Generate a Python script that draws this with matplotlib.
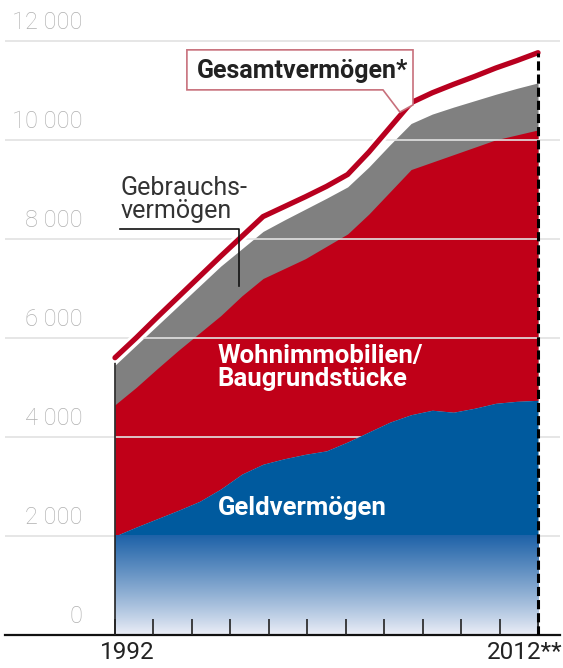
import numpy as np
import matplotlib
matplotlib.use("Agg")
import matplotlib.pyplot as plt
import matplotlib.patheffects as pe
from matplotlib import font_manager as fm
from matplotlib.patches import Polygon

# ---- data (Mrd. Euro) ----
years = [1992, 1993, 1994, 1995, 1996, 1997, 1998, 1999, 2000, 2001, 2002,
         2003, 2004, 2005, 2006, 2007, 2008, 2009, 2010, 2011, 2012]
geld = [2000, 2180, 2350, 2520, 2700, 2950, 3250, 3450, 3560, 3650, 3720,
        3900, 4100, 4300, 4450, 4540, 4500, 4580, 4680, 4720, 4740]
wohn_top = [4650, 5000, 5380, 5750, 6100, 6450, 6850, 7200, 7400, 7600, 7850,
            8100, 8500, 8950, 9400, 9550, 9700, 9850, 10000, 10100, 10200]
gebrauch_top = [5450, 5850, 6250, 6650, 7050, 7450, 7800, 8150, 8380, 8600, 8820,
                9050, 9450, 9900, 10330, 10520, 10660, 10790, 10920, 11040, 11150]
gesamt = [5600, 6000, 6420, 6830, 7240, 7650, 8050, 8450, 8650, 8850, 9060,
          9300, 9750, 10250, 10750, 10950, 11120, 11280, 11450, 11600, 11760]
yticks = [0, 2000, 4000, 6000, 8000, 10000, 12000]
ytick_labels = ["0", "2 000", "4 000", "6 000", "8 000", "10 000", "12 000"]
xlabel_first = "1992"
xlabel_last = "2012**"

available = {f.name for f in fm.fontManager.ttflist}
main_font = "Roboto" if "Roboto" in available else "Liberation Sans"
plt.rcParams['font.family'] = [main_font, 'DejaVu Sans']

BLUE = "#005a9e"
RED = "#c00018"
GRAY = "#808080"
LINE_RED = "#b8001f"

fig = plt.figure(figsize=(5.63, 6.68), dpi=100)
ax = fig.add_axes([5 / 563, 33 / 668, 555 / 563, 614 / 668])
ax.set_xlim(1986.80, 2013.04)
ax.set_ylim(0, 12400)
for s in ["top", "left", "right"]:
    ax.spines[s].set_visible(False)
ax.spines["bottom"].set_linewidth(1.6)
ax.spines["bottom"].set_color("#111111")
ax.set_yticks([])
ax.set_axisbelow(False)

ticks = np.linspace(years[0], years[-1], 12)
ax.set_xticks(ticks)
ax.set_xticklabels([""] * len(ticks))
ax.tick_params(axis="x", direction="in", length=11.5, width=1.2, color="#222222")

# areas
ax.fill_between(years, geld, gebrauch_top, color=GRAY, lw=0, zorder=1)
ax.fill_between(years, geld, wohn_top, color=RED, lw=0, zorder=1.1)

# gridlines
for v in yticks[1:]:
    ax.axhline(v, color="#e2e2e2", lw=1.2, zorder=1.5)

# blue area with gradient
ax.fill_between(years, 2000, geld, color=BLUE, lw=0, zorder=2)
grad = np.linspace(0, 1, 256).reshape(-1, 1)
top_c = np.array([0x1e, 0x62, 0xa8]) / 255
bot_c = np.array([0xee, 0xf0, 0xf8]) / 255
img = bot_c + (top_c - bot_c) * grad[..., None] ** 0.9
img = img.reshape(256, 1, 3)
ax.imshow(img, extent=[years[0], years[-1], 0, 2000], origin="lower",
          aspect="auto", zorder=2, interpolation="bilinear")
ax.set_xlim(1986.80, 2013.04)
ax.set_ylim(0, 12400)

# y labels
for v, t in zip(yticks, ytick_labels):
    ax.text(0.1405, v + 240, t, transform=ax.get_yaxis_transform(),
            ha="right", va="baseline", fontsize=17, color="#b0b0b0",
            fontweight="light")

# left edge line and right dashed line
ax.vlines(years[0], 0, gesamt[0], color="#222222", lw=1.2, zorder=3)
ax.vlines(years[-1], 0, gesamt[-1], color="black", lw=2.2,
          linestyles=(0, (3, 1.3)), zorder=5)

# total line
ax.plot(years, gesamt, color=LINE_RED, lw=3.8, solid_capstyle="round",
        zorder=4, path_effects=[pe.Stroke(linewidth=7.5, foreground="white"), pe.Normal()])

# callout box
bubble = Polygon([(1995.40, 11817), (2006.09, 11817), (2006.09, 10706),
                  (2005.47, 10560), (2004.67, 11009), (1995.40, 11009)],
                 closed=True, facecolor="white", edgecolor="#c8707c", lw=1.2, zorder=6)
ax.add_patch(bubble)
ax.text(1995.85, 11400, "Gesamtvermögen*", fontsize=18, fontweight="bold",
        color="#222222", ha="left", va="center", zorder=7)

# Gebrauchsvermögen label
ax.text(1992.25, 8330, "Gebrauchs-\nvermögen", fontsize=18, color="#333333",
        ha="left", va="bottom", linespacing=0.92, zorder=7)
ax.plot([1992.25, 1997.85, 1997.85], [8200, 8200, 7050], color="#111111", lw=1.2, zorder=7)

# white labels
ax.text(1996.85, 5400, "Wohnimmobilien/\nBaugrundstücke", fontsize=18.5,
        fontweight="bold", color="white", ha="left", va="center",
        linespacing=0.92, zorder=7)
ax.text(1996.85, 2560, "Geldvermögen", fontsize=18.5, fontweight="bold",
        color="white", ha="left", va="center", zorder=7)

# x labels
ax.text(1991.3, -480, xlabel_first, fontsize=17.5, color="#222222",
        ha="left", va="baseline", clip_on=False)
ax.text(2009.6, -480, xlabel_last, fontsize=17.5, color="#222222",
        ha="left", va="baseline", clip_on=False)

fig.savefig("out.png", dpi=100)
